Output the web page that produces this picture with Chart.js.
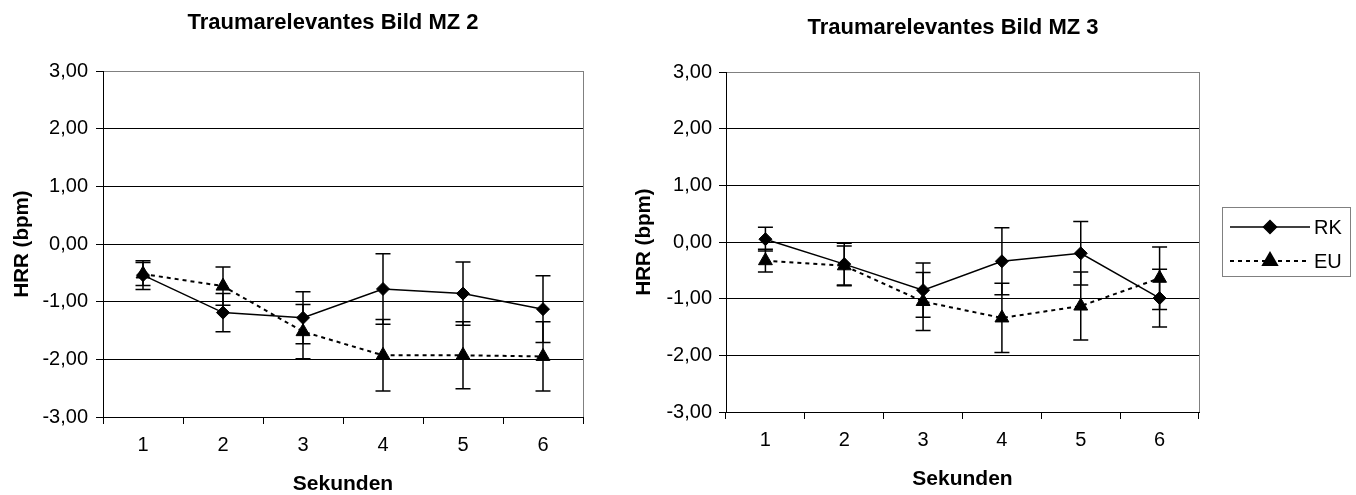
<!DOCTYPE html>
<html>
<head>
<meta charset="utf-8">
<script src="https://cdn.jsdelivr.net/npm/chart.js@4.4.1/dist/chart.umd.min.js"></script>
<style>
  html, body { margin: 0; padding: 0; background: #fff; }
  #wrap { position: relative; width: 1356px; height: 495px; overflow: hidden; background: #fff; }
  canvas { position: absolute; top: 0; }
  #mz2 { left: 0; }
  #mz3 { left: 620px; }
</style>
</head>
<body>
<div id="wrap">
  <canvas id="mz2" width="600" height="495"></canvas>
  <canvas id="mz3" width="736" height="495"></canvas>
</div>
<script>
// Seconds after picture onset
const seconds = ['1', '2', '3', '4', '5', '6'];

// HRR means and error ranges, picture MZ 2
const mz2RK = [-0.54, -1.19, -1.28, -0.78, -0.86, -1.13];
const mz2RKErr = [0.25, 0.33, 0.45, 0.61, 0.55, 0.58];
const mz2EU = [-0.52, -0.73, -1.52, -1.93, -1.93, -1.95];
const mz2EUErr = [0.20, 0.33, 0.47, 0.62, 0.58, 0.60];

// HRR means and error ranges, picture MZ 3
const mz3RK = [0.05, -0.39, -0.85, -0.34, -0.20, -0.99];
const mz3RKErr = [0.21, 0.37, 0.48, 0.59, 0.56, 0.51];
const mz3EU = [-0.33, -0.42, -1.05, -1.34, -1.13, -0.64];
const mz3EUErr = [0.20, 0.35, 0.51, 0.61, 0.60, 0.55];

// Value axis range
const yMin = -3;
const yMax = 3;
const yStep = 1;

const FONT = '"Liberation Sans", Arial, Helvetica, sans-serif';

// Vertical error bars with caps, drawn below the markers
const errorBars = {
  id: 'errorBars',
  beforeDatasetsDraw(chart) {
    const { ctx } = chart;
    const y = chart.scales.y;
    chart.data.datasets.forEach((ds, i) => {
      if (!ds.errors) return;
      const meta = chart.getDatasetMeta(i);
      ctx.save();
      ctx.strokeStyle = '#000';
      ctx.lineWidth = 1.5;
      ctx.setLineDash([]);
      meta.data.forEach((pt, j) => {
        const v = ds.data[j];
        const e = ds.errors[j];
        const top = y.getPixelForValue(v + e);
        const bot = y.getPixelForValue(v - e);
        const cap = 7.5;
        ctx.beginPath();
        ctx.moveTo(pt.x, top); ctx.lineTo(pt.x, bot);
        ctx.moveTo(pt.x - cap, top); ctx.lineTo(pt.x + cap, top);
        ctx.moveTo(pt.x - cap, bot); ctx.lineTo(pt.x + cap, bot);
        ctx.stroke();
      });
      ctx.restore();
    });
  }
};

// Grey outline on the right edge of the plot area
const plotFrame = {
  id: 'plotFrame',
  beforeDatasetsDraw(chart) {
    const { ctx, chartArea: a } = chart;
    ctx.save();
    ctx.strokeStyle = '#808080';
    ctx.lineWidth = 1;
    ctx.beginPath();
    const x = Math.round(a.right) + 0.5;
    ctx.moveTo(x, a.top);
    ctx.lineTo(x, a.bottom);
    ctx.stroke();
    ctx.restore();
  }
};

// Panel heading placed at a fixed spot above the plot
const panelTitle = {
  id: 'panelTitle',
  afterDraw(chart, args, opts) {
    if (!opts.text) return;
    const { ctx } = chart;
    ctx.save();
    ctx.fillStyle = '#000';
    ctx.font = 'bold ' + opts.size + 'px ' + FONT;
    ctx.textAlign = 'center';
    ctx.textBaseline = 'middle';
    ctx.fillText(opts.text, opts.x, opts.y);
    ctx.restore();
  }
};

// Boxed legend with line samples and markers
const boxLegend = {
  id: 'boxLegend',
  afterDraw(chart, args, opts) {
    if (!opts.display) return;
    const { ctx } = chart;
    ctx.save();
    ctx.strokeStyle = '#808080';
    ctx.lineWidth = 1;
    ctx.strokeRect(opts.left + 0.5, opts.top + 0.5, opts.width, opts.height);
    chart.data.datasets.forEach((ds, i) => {
      const rowY = opts.top + opts.rowStart + i * opts.rowGap;
      const x0 = opts.left + 8;
      const x1 = x0 + opts.sample;
      ctx.strokeStyle = ds.borderColor;
      ctx.lineWidth = ds.borderWidth;
      ctx.setLineDash(ds.borderDash || []);
      ctx.beginPath();
      ctx.moveTo(x0, rowY);
      ctx.lineTo(x1, rowY);
      ctx.stroke();
      ctx.setLineDash([]);
      Chart.helpers.drawPoint(ctx, {
        pointStyle: ds.pointStyle,
        radius: ds.pointRadius,
        borderWidth: 1,
        rotation: 0
      }, (x0 + x1) / 2, rowY);
      ctx.fillStyle = '#000';
      ctx.font = opts.size + 'px ' + FONT;
      ctx.textAlign = 'left';
      ctx.textBaseline = 'middle';
      ctx.fillText(ds.label, x1 + 4, rowY + 1);
    });
    ctx.restore();
  }
};

function series(label, values, errors, dashed) {
  return {
    label: label,
    data: values,
    errors: errors,
    borderColor: '#000',
    backgroundColor: '#000',
    borderWidth: dashed ? 2 : 1.5,
    borderDash: dashed ? [4, 4] : [],
    pointStyle: dashed ? 'triangle' : 'rectRot',
    pointRadius: dashed ? 8 : 6.5,
    pointHoverRadius: dashed ? 8 : 6.5,
    pointBackgroundColor: '#000',
    pointBorderColor: '#000',
    pointBorderWidth: 1,
    tension: 0,
    fill: false
  };
}

function makeChart(id, cfg) {
  return new Chart(document.getElementById(id), {
    type: 'line',
    data: {
      labels: seconds,
      datasets: [
        series('RK', cfg.rk, cfg.rkErr, false),
        series('EU', cfg.eu, cfg.euErr, true)
      ]
    },
    options: {
      responsive: false,
      animation: false,
      events: [],
      layout: { padding: { top: cfg.top, right: cfg.right, bottom: 0, left: 0 } },
      plugins: {
        legend: { display: false },
        tooltip: { enabled: false },
        panelTitle: cfg.title,
        boxLegend: cfg.legend
      },
      scales: {
        x: {
          type: 'category',
          offset: true,
          grid: {
            offset: true,
            drawOnChartArea: false,
            drawTicks: true,
            tickLength: 7,
            color: '#000',
            lineWidth: 1
          },
          border: { display: true, color: '#000', width: 1 },
          ticks: {
            color: '#000',
            font: { family: FONT, size: cfg.tickSize },
            padding: cfg.xTickPad,
            maxRotation: 0,
            autoSkip: false
          },
          title: {
            display: true,
            text: 'Sekunden',
            color: '#000',
            font: { family: FONT, size: cfg.xTitleSize, weight: 'bold', lineHeight: 1 },
            padding: { top: 0, bottom: cfg.xTitlePad }
          },
          afterFit(s) { s.height = cfg.xHeight; }
        },
        y: {
          min: yMin,
          max: yMax,
          grid: {
            color: (c) => (c.tick && c.tick.value === yMax ? '#808080' : '#000'),
            tickColor: '#000',
            lineWidth: 1,
            drawTicks: true,
            tickLength: 7
          },
          border: { display: true, color: '#000', width: 1 },
          ticks: {
            stepSize: yStep,
            color: '#000',
            padding: cfg.yTickPad,
            font: { family: FONT, size: cfg.tickSize },
            callback: (v) => Number(v).toFixed(2).replace('.', ',')
          },
          title: {
            display: true,
            text: 'HRR (bpm)',
            color: '#000',
            font: { family: FONT, size: cfg.yTitleSize, weight: 'bold', lineHeight: 1 },
            padding: { top: cfg.yTitlePad, bottom: 0 }
          },
          afterFit(s) { s.width = cfg.yWidth; }
        }
      }
    },
    plugins: [plotFrame, errorBars, panelTitle, boxLegend]
  });
}

makeChart('mz2', {
  rk: mz2RK, rkErr: mz2RKErr, eu: mz2EU, euErr: mz2EUErr,
  top: 71, right: 17, yWidth: 103, xHeight: 78,
  tickSize: 20, xTitleSize: 21, yTitleSize: 20.5,
  xTickPad: 9.5, yTickPad: 8, xTitlePad: 0.5, yTitlePad: 12.5,
  title: { text: 'Traumarelevantes Bild MZ 2', x: 333, y: 23, size: 22 },
  legend: { display: false }
});

makeChart('mz3', {
  rk: mz3RK, rkErr: mz3RKErr, eu: mz3EU, euErr: mz3EUErr,
  top: 72, right: 157, yWidth: 106, xHeight: 83,
  tickSize: 20, xTitleSize: 21, yTitleSize: 20.5,
  xTickPad: 9.8, yTickPad: 7, xTitlePad: 5, yTitlePad: 14,
  title: { text: 'Traumarelevantes Bild MZ 3', x: 333, y: 28, size: 22 },
  legend: { display: true, left: 602, top: 207, width: 128, height: 69, rowStart: 20, rowGap: 34, sample: 80, size: 20 }
});
</script>
</body>
</html>
